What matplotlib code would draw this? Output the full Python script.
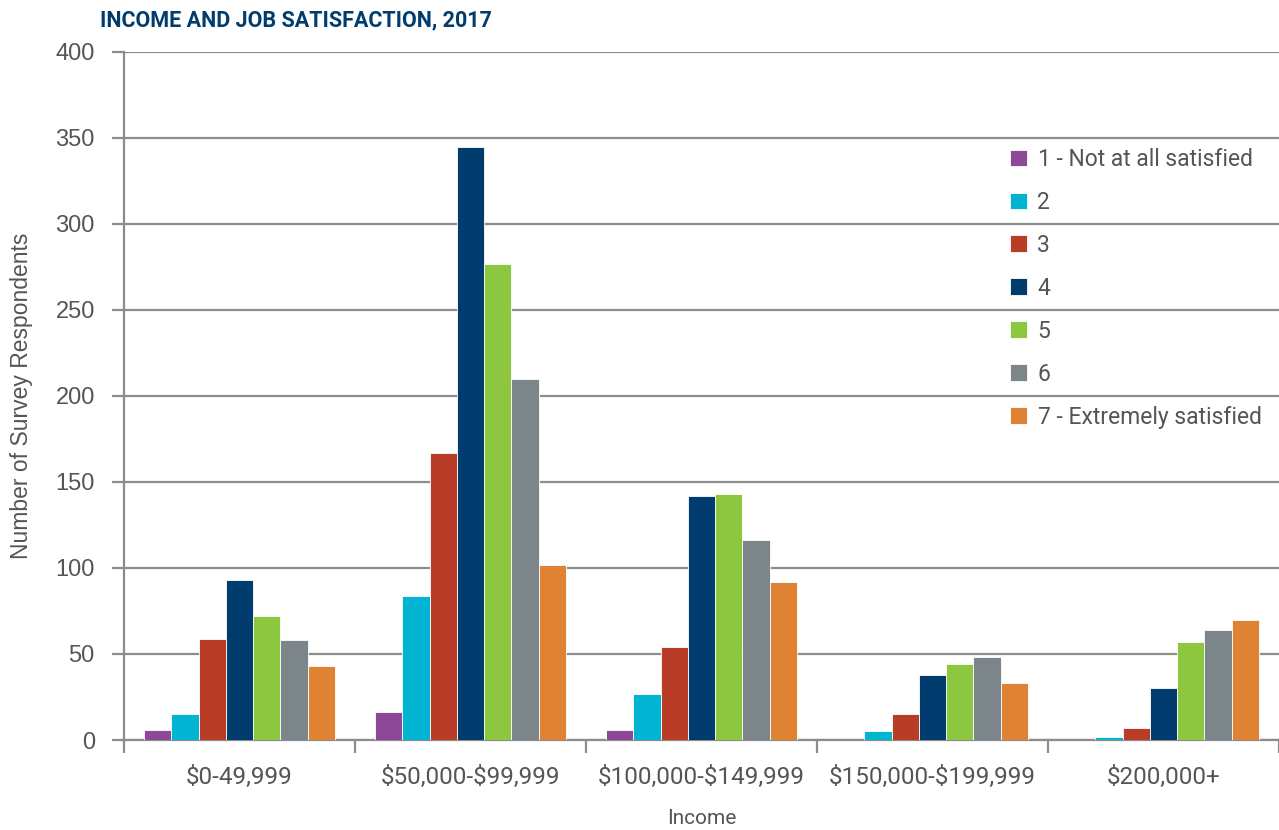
import matplotlib
matplotlib.use("Agg")
import matplotlib.pyplot as plt
import numpy as np

# Income brackets and satisfaction levels
income_groups = ["$0-49,999", "$50,000-$99,999", "$100,000-$149,999",
                 "$150,000-$199,999", "$200,000+"]
levels = ["1 - Not at all satisfied", "2", "3", "4", "5", "6",
          "7 - Extremely satisfied"]

# Respondent counts per satisfaction level (one list per level, ordered by income group)
level_1 = [6, 16, 6, 0, 0]
level_2 = [15, 84, 27, 5, 2]
level_3 = [59, 167, 54, 15, 7]
level_4 = [93, 345, 142, 38, 30]
level_5 = [72, 277, 143, 44, 57]
level_6 = [58, 210, 116, 48, 64]
level_7 = [43, 102, 92, 33, 70]

yticks = [0, 50, 100, 150, 200, 250, 300, 350, 400]

series = [level_1, level_2, level_3, level_4, level_5, level_6, level_7]
colors = ["#8e4898", "#00b4d2", "#b83c26", "#003d6e", "#8dc63f", "#7b858a", "#e08233"]

grid_c = "#8c8c8c"
text_c = "#555555"

fig = plt.figure(figsize=(12.79, 8.30), dpi=100)
ax = fig.add_axes([124 / 1279, 1 - 740 / 830, 1 - 124 / 1279, (740 - 52) / 830])

x = np.arange(len(income_groups))
bw = 0.118
n = len(series)
for i, (vals, col, lab) in enumerate(zip(series, colors, levels)):
    offs = (i - (n - 1) / 2) * bw
    ax.bar(x + offs, vals, width=bw, color=col, label=lab,
           edgecolor="white", linewidth=0.6, zorder=3)

ax.set_xlim(-0.5, len(income_groups) - 0.5)
ax.set_ylim(0, 400)
ax.set_yticks(yticks)
ax.yaxis.grid(True, color=grid_c, linewidth=1.6, zorder=0)
ax.set_axisbelow(True)

# Group separators as downward ticks on the x axis
ax.set_xticks(np.arange(-0.5, len(income_groups) + 0.5, 1.0))
ax.set_xticklabels([])
ax.set_xticks(x, minor=True)
ax.set_xticklabels([s.replace("$", r"\$") for s in income_groups], minor=True,
                   fontsize=17.5, color=text_c, family="Roboto")
ax.tick_params(axis="x", which="minor", length=0, pad=19)
ax.tick_params(axis="x", which="major", length=9, width=1.6, color=grid_c)
ax.tick_params(axis="y", length=9, width=1.6, color=grid_c, labelsize=17,
               labelcolor=text_c, pad=12)
for lbl in ax.get_yticklabels():
    lbl.set_family("Liberation Sans")

for side in ["top", "right"]:
    ax.spines[side].set_visible(False)
for side in ["left", "bottom"]:
    ax.spines[side].set_color(grid_c)
    ax.spines[side].set_linewidth(1.6)

ax.set_ylabel("Number of Survey Respondents", fontsize=16.5, color=text_c,
              family="Liberation Sans", labelpad=16)
ax.set_xlabel("Income", fontsize=15, color=text_c, family="Roboto", labelpad=14)

leg = ax.legend(loc="upper left", bbox_to_anchor=(1010 / 1279, 1 - 148 / 830),
                bbox_transform=fig.transFigure, frameon=False,
                prop={"family": "Roboto", "size": 16.5},
                handlelength=0.75, handleheight=0.75, handletextpad=0.45,
                labelspacing=0.87, borderpad=0, borderaxespad=0)
for t in leg.get_texts():
    t.set_color(text_c)

fig.text(100 / 1279, 1 - 20 / 830, "INCOME AND JOB SATISFACTION, 2017",
         fontsize=15.5, fontweight="bold", color="#003d6e", family="Roboto",
         va="center", ha="left")

fig.savefig("out.png", dpi=100, facecolor="white")
